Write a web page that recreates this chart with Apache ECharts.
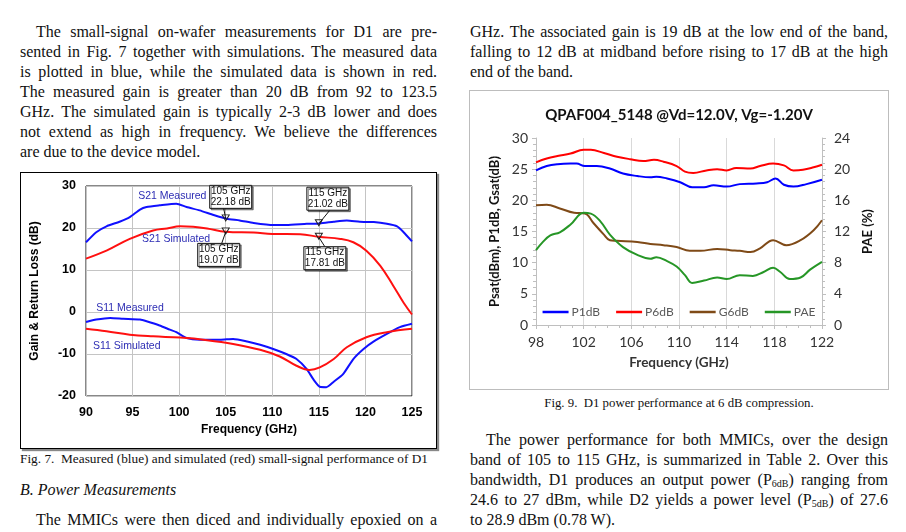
<!DOCTYPE html>
<html>
<head>
<meta charset="utf-8">
<script src="https://cdn.jsdelivr.net/npm/echarts@6/dist/echarts.min.js"></script>
<style>
  body { margin: 0; width: 906px; height: 532px; background: #fff; overflow: hidden; position: relative;
         font-family: 'Liberation Serif', 'Times New Roman', serif; color: #111; }
  .col { position: absolute; font-size: 16px; line-height: 20px; }
  .j { text-align: justify; text-align-last: justify; }
  .ind { text-indent: 16px; }
  sub { font-size: 10px; line-height: 0; vertical-align: -2px; }
  .cap { position: absolute; font-size: 12.8px; line-height: 16px; }
  #fig7 { position: absolute; left: 20px; top: 172px; width: 415px; height: 275px;
          border: 1px solid #000; box-shadow: 2px 2px 1px #888; }
  #fig9 { position: absolute; left: 469px; top: 90px; width: 418px; height: 298px;
          border: 1px solid #bdbdbd; }
</style>
</head>
<body>

<div class="col" style="left:20px;top:22px;width:417px;">
  <div class="j ind">The small-signal on-wafer measurements for D1 are pre-</div>
  <div class="j">sented in Fig. 7 together with simulations. The measured data</div>
  <div class="j">is plotted in blue, while the simulated data is shown in red.</div>
  <div class="j">The measured gain is greater than 20 dB from 92 to 123.5</div>
  <div class="j">GHz. The simulated gain is typically 2-3 dB lower and does</div>
  <div class="j">not extend as high in frequency. We believe the differences</div>
  <div>are due to the device model.</div>
</div>

<div class="col" style="left:470px;top:22px;width:418px;">
  <div class="j">GHz. The associated gain is 19 dB at the low end of the band,</div>
  <div class="j">falling to 12 dB at midband before rising to 17 dB at the high</div>
  <div>end of the band.</div>
</div>

<div id="fig7"></div>
<div class="cap" style="left:20px;top:451px;font-size:13.3px;">Fig. 7.&nbsp; Measured (blue) and simulated (red) small-signal performance of D1</div>

<div class="col" style="left:20px;top:480px;width:417px;font-style:italic;">B. Power Measurements</div>
<div class="col" style="left:20px;top:510px;width:417px;">
  <div class="j ind">The MMICs were then diced and individually epoxied on a</div>
</div>

<div id="fig9"></div>
<div class="cap" style="left:470px;top:395px;width:418px;text-align:center;">Fig. 9.&nbsp; D1 power performance at 6 dB compression.</div>

<div class="col" style="left:470px;top:430px;width:418px;">
  <div class="j ind">The power performance for both MMICs, over the design</div>
  <div class="j">band of 105 to 115 GHz, is summarized in Table 2. Over this</div>
  <div class="j">bandwidth, D1 produces an output power (P<sub>6dB</sub>) ranging from</div>
  <div class="j">24.6 to 27 dBm, while D2 yields a power level (P<sub>5dB</sub>) of 27.6</div>
  <div>to 28.9 dBm (0.78 W).</div>
</div>

<script>
// ---- Fig. 7 data (small-signal S-parameters) ----
const s21MeasFreq = [90, 91.1, 92.2, 93.6, 94.7, 95.8, 96.5, 97.9, 99.7, 100.8, 102.2, 103.7, 105.1, 106.5, 108, 110.1, 111.5, 113.7, 115.1, 116.6, 118, 119.4, 120.9, 122.3, 123.4, 124.1, 125];
const s21MeasDb   = [16.6, 19.0, 20.4, 21.5, 22.6, 24.4, 25.0, 25.4, 25.8, 25.0, 24.2, 23.1, 22.2, 21.8, 21.2, 20.7, 20.7, 21.0, 21.1, 21.5, 21.8, 21.5, 21.4, 21.0, 20.4, 19.0, 16.8];

const s21SimFreq = [90, 92.2, 94.7, 97.2, 98.7, 100.1, 101.5, 103, 105, 108, 110, 113, 115, 117.3, 118.7, 120.1, 121.6, 123, 124.1, 125];
const s21SimDb   = [12.7, 14.6, 17.4, 19.4, 19.9, 20.4, 20.3, 19.9, 19.1, 18.9, 18.6, 18.5, 17.9, 17.4, 16.6, 14.6, 11.0, 6.2, 2.2, -0.6];

const s11MeasFreq = [90, 91.1, 92.6, 94, 95.8, 96.5, 97.9, 99, 99.7, 100.8, 102.2, 104.4, 105.8, 107.3, 108.7, 110.1, 111.5, 112.6, 113.7, 114.4, 115.1, 115.8, 116.6, 117.6, 118.7, 119.8, 120.9, 122.3, 123.7, 125];
const s11MeasDb   = [-2.4, -1.8, -1.4, -1.6, -1.8, -2.2, -3.2, -4.2, -4.8, -6.2, -6.6, -6.6, -6.4, -7.0, -7.8, -8.8, -10.0, -11.2, -13.6, -16.0, -17.8, -17.9, -16.6, -14.8, -11.2, -8.8, -7.0, -5.2, -3.6, -2.8];

const s11SimFreq = [90, 92.2, 94.7, 97.2, 100.1, 103, 105.8, 108.7, 110.8, 112.6, 114, 115.1, 116.6, 118, 120.1, 122.3, 125];
const s11SimDb   = [-4.0, -4.6, -5.4, -5.8, -6.1, -6.7, -7.6, -9.0, -10.6, -12.8, -13.8, -13.2, -11.2, -8.4, -6.0, -4.8, -4.0];

// marker readouts
const markFreq = [105, 115, 105, 115];
const markDb   = [22.18, 21.02, 19.07, 17.81];

// ---- Fig. 9 data (power performance) ----
const p1Freq = [98, 98.9, 99.8, 100.9, 101.4, 102.1, 103.1, 104.2, 105.3, 106.5, 107.6, 108.1, 109, 110.1, 111.1, 112.1, 112.9, 114, 115.1, 116.5, 117.4, 118.1, 118.8, 119.6, 120.7, 122];
const p1Val  = [24.8, 25.5, 25.8, 25.9, 25.9, 25.5, 25.5, 25.1, 24.3, 23.9, 23.7, 23.8, 23.5, 22.9, 22.1, 22.1, 22.4, 22.2, 22.6, 22.7, 22.9, 23.5, 22.5, 22.2, 22.6, 23.3];

const p6Freq = [98, 98.9, 99.8, 100.9, 102, 102.6, 103.7, 104.8, 105.9, 107, 107.9, 108.7, 109.8, 110.5, 111.2, 112.3, 113.2, 114, 114.8, 116, 116.8, 117.9, 118.8, 119.6, 120.4, 121.3, 122];
const p6Val  = [26.1, 26.7, 27.1, 27.5, 28.1, 28.1, 27.6, 27.0, 26.6, 26.3, 26.5, 26.2, 25.5, 24.6, 24.4, 24.8, 25.0, 24.8, 25.2, 25.1, 25.5, 25.9, 25.6, 24.8, 24.9, 25.3, 25.7];

const g6Freq = [98, 98.9, 100, 101.2, 102.1, 102.8, 103.7, 104.2, 104.8, 106.5, 107.6, 108.7, 109.8, 110.9, 111.8, 113.2, 114.3, 115.1, 116, 116.8, 117.9, 119, 120.2, 121.3, 122];
const g6Val  = [19.2, 19.3, 18.7, 18.0, 17.9, 16.4, 14.5, 13.6, 13.5, 13.3, 13.0, 12.8, 12.5, 11.9, 11.9, 12.2, 12.0, 11.9, 11.7, 12.3, 13.6, 12.8, 13.6, 15.2, 16.8];

const paeFreq = [98, 98.6, 99.2, 100, 100.9, 102, 102.6, 103.4, 104.2, 105.3, 106.5, 107.6, 108.1, 109, 109.8, 110.5, 111.1, 112.1, 113.2, 114, 115.1, 116.2, 117.1, 117.9, 118.5, 119.3, 120.2, 121, 122];
const paeVal  = [9.6, 10.7, 11.5, 11.9, 12.9, 14.4, 14.3, 13.3, 11.6, 10.0, 9.0, 8.5, 8.7, 8.2, 7.5, 6.4, 5.4, 5.7, 6.1, 5.9, 6.4, 6.3, 6.8, 7.35, 6.8, 5.9, 6.1, 7.1, 8.1];

function pairs(xs, ys) {
  return xs.map((x, i) => [x, ys[i]]);
}

// ================= Fig. 7 =================
const sans = 'Liberation Sans, Arial, sans-serif';
const fig7 = echarts.init(document.getElementById('fig7'));

const triMark = (idx) => ({
  symbol: 'triangle',
  symbolRotate: 180,
  symbolSize: [7, 6],
  symbolOffset: [0, -1],
  silent: true,
  label: { show: false },
  itemStyle: { color: 'rgba(0,0,0,0)', borderColor: '#222', borderWidth: 1 },
  data: idx.map(i => ({ coord: [markFreq[i], markDb[i]] }))
});

fig7.setOption({
  animation: false,
  textStyle: { fontFamily: sans },
  grid: { left: 65, right: 24, top: 13, bottom: 52, show: true, borderColor: '#111', borderWidth: 1 },
  xAxis: {
    type: 'value', min: 90, max: 125, interval: 5,
    axisLine: { show: false }, axisTick: { show: false },
    splitLine: { show: true, lineStyle: { color: '#c4c4c4', width: 1 } },
    axisLabel: { color: '#000', fontWeight: 'bold', fontSize: 12.5, margin: 10, fontFamily: sans },
    name: 'Frequency (GHz)', nameLocation: 'middle', nameGap: 27,
    nameTextStyle: { color: '#000', fontWeight: 'bold', fontSize: 12, fontFamily: sans }
  },
  yAxis: {
    type: 'value', min: -20, max: 30, interval: 10,
    axisLine: { show: false }, axisTick: { show: false },
    splitLine: { show: true, lineStyle: { color: '#c4c4c4', width: 1 } },
    axisLabel: { color: '#000', fontWeight: 'bold', fontSize: 12.5, margin: 10, fontFamily: sans },
    name: 'Gain & Return Loss (dB)', nameLocation: 'middle', nameGap: 45, nameRotate: 90,
    nameTextStyle: { color: '#000', fontWeight: 'bold', fontSize: 12, fontFamily: sans }
  },
  series: [
    { name: 'S21 Measured', type: 'line', data: pairs(s21MeasFreq, s21MeasDb), showSymbol: false, symbol: 'none',
      smooth: 0.2, lineStyle: { color: '#1010ff', width: 2 }, markPoint: triMark([0, 1]) },
    { name: 'S21 Simulated', type: 'line', data: pairs(s21SimFreq, s21SimDb), showSymbol: false, symbol: 'none',
      smooth: 0.4, lineStyle: { color: '#ff1010', width: 2 }, markPoint: triMark([2, 3]) },
    { name: 'S11 Measured', type: 'line', data: pairs(s11MeasFreq, s11MeasDb), showSymbol: false, symbol: 'none',
      smooth: 0.2, lineStyle: { color: '#1010ff', width: 2 } },
    { name: 'S11 Simulated', type: 'line', data: pairs(s11SimFreq, s11SimDb), showSymbol: false, symbol: 'none',
      smooth: 0.4, lineStyle: { color: '#ff1010', width: 2 } }
  ]
});

// curve labels and marker readout boxes, placed from data coordinates
const curveLabels = [
  { text: 'S21 Measured',  at: [95.6, 27.6] },
  { text: 'S21 Simulated', at: [96.0, 17.4] },
  { text: 'S11 Measured',  at: [91.1, 0.95] },
  { text: 'S11 Simulated', at: [90.75, -8.1] }
];
// box centre offset from the marker, and where the leader meets the box
const boxOffset = [[5, -22], [9, -25], [-7, 23], [6, 21]];
const leaderX = [-7, 2, 3, 0];

const g7 = [];
curveLabels.forEach(l => {
  const p = fig7.convertToPixel({ gridIndex: 0 }, l.at);
  g7.push({ type: 'text', x: p[0], y: p[1], z: 50,
    style: { text: l.text, fill: '#2d2db4', font: '10.5px ' + sans, verticalAlign: 'middle' } });
});
markFreq.forEach((f, i) => {
  const p = fig7.convertToPixel({ gridIndex: 0 }, [f, markDb[i]]);
  const w = 42, h = 23;
  const cx = p[0] + boxOffset[i][0], cy = p[1] + boxOffset[i][1];
  const edgeY = boxOffset[i][1] < 0 ? cy + h / 2 : cy - h / 2;
  g7.push({ type: 'line', z: 60, shape: { x1: p[0], y1: p[1], x2: cx + leaderX[i], y2: edgeY },
    style: { stroke: '#111', lineWidth: 1 } });
  g7.push({ type: 'rect', z: 61, shape: { x: cx - w / 2, y: cy - h / 2, width: w, height: h },
    style: { fill: '#fff', stroke: '#111', lineWidth: 1, shadowColor: 'rgba(0,0,0,0.45)', shadowOffsetX: 1.5, shadowOffsetY: 1.5 } });
  g7.push({ type: 'text', z: 62, x: cx, y: cy,
    style: { text: f + ' GHz\n' + markDb[i].toFixed(2) + ' dB', fill: '#111', font: '10px ' + sans,
             align: 'center', verticalAlign: 'middle', lineHeight: 11 } });
});
fig7.setOption({ graphic: g7 });

// ================= Fig. 9 =================
const cal = 'Lato, Carlito, Calibri, sans-serif';
const fig9 = echarts.init(document.getElementById('fig9'));

const axisGray = '#bfbfbf';
fig9.setOption({
  animation: false,
  textStyle: { fontFamily: cal },
  title: {
    text: 'QPAF004_5148 @Vd=12.0V, Vg=-1.20V', left: 'center', top: 12,
    textStyle: { fontFamily: cal, fontWeight: 'bold', fontSize: 15, color: '#111' }
  },
  legend: {
    top: 210, left: 'center', icon: 'rect', itemWidth: 26, itemHeight: 2.5, itemGap: 16,
    textStyle: { fontFamily: cal, fontSize: 12, color: '#595959', padding: [0, 0, 0, -2] },
    data: ['P1dB', 'P6dB', 'G6dB', 'PAE']
  },
  grid: { left: 66, right: 66, top: 47, bottom: 64 },
  xAxis: {
    type: 'value', min: 98, max: 122, interval: 4,
    axisLine: { lineStyle: { color: axisGray } },
    axisTick: { show: true, length: 4, lineStyle: { color: axisGray } },
    minorTick: { show: true, splitNumber: 4, length: 3, lineStyle: { color: axisGray } },
    splitLine: { show: true, lineStyle: { color: '#d9d9d9' } },
    axisLabel: { color: '#333', fontSize: 14, margin: 10, fontFamily: cal },
    name: 'Frequency (GHz)', nameLocation: 'middle', nameGap: 31,
    nameTextStyle: { color: '#333', fontWeight: 'bold', fontSize: 13.5, fontFamily: cal }
  },
  yAxis: [
    {
      type: 'value', min: 0, max: 30, interval: 5,
      axisLine: { show: true, lineStyle: { color: axisGray } },
      axisTick: { show: true, length: 4, lineStyle: { color: axisGray } },
      minorTick: { show: true, splitNumber: 5, length: 3, lineStyle: { color: axisGray } },
      splitLine: { show: false },
      axisLabel: { color: '#333', fontSize: 14, margin: 8, fontFamily: cal },
      name: 'Psat(dBm), P1dB, Gsat(dB)', nameLocation: 'middle', nameGap: 34, nameRotate: 90,
      nameTextStyle: { color: '#111', fontWeight: 'bold', fontSize: 13, fontFamily: cal }
    },
    {
      type: 'value', min: 0, max: 24, interval: 4,
      axisLine: { show: true, lineStyle: { color: axisGray } },
      axisTick: { show: true, length: 4, lineStyle: { color: axisGray } },
      minorTick: { show: true, splitNumber: 5, length: 3, lineStyle: { color: axisGray } },
      splitLine: { show: false },
      axisLabel: { color: '#333', fontSize: 14, margin: 12, fontFamily: cal },
      name: 'PAE (%)', nameLocation: 'middle', nameGap: 32, nameRotate: 90,
      nameTextStyle: { color: '#111', fontWeight: 'bold', fontSize: 13, fontFamily: cal }
    }
  ],
  series: [
    { name: 'P1dB', type: 'line', data: pairs(p1Freq, p1Val), symbol: 'none', smooth: 0.4,
      color: '#0000ff', lineStyle: { width: 2 } },
    { name: 'P6dB', type: 'line', data: pairs(p6Freq, p6Val), symbol: 'none', smooth: 0.4,
      color: '#ff0000', lineStyle: { width: 2 } },
    { name: 'G6dB', type: 'line', data: pairs(g6Freq, g6Val), symbol: 'none', smooth: 0.4,
      color: '#7f4a17', lineStyle: { width: 2 } },
    { name: 'PAE', type: 'line', yAxisIndex: 1, data: pairs(paeFreq, paeVal), symbol: 'none', smooth: 0.4,
      color: '#269626', lineStyle: { width: 2 } }
  ]
});
</script>
</body>
</html>
